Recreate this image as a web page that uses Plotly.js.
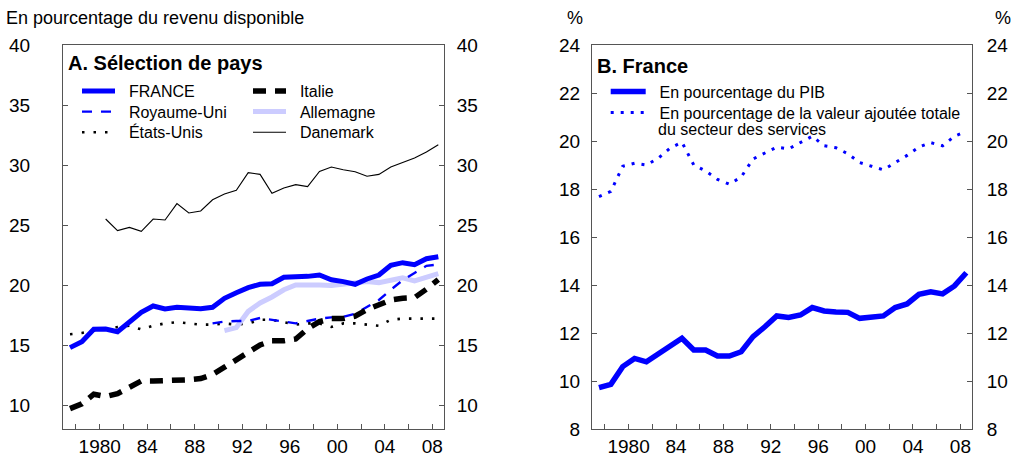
<!DOCTYPE html>
<html>
<head>
<meta charset="utf-8">
<script src="https://cdn.plot.ly/plotly-3.0.1.min.js"></script>
<style>html,body{margin:0;padding:0;background:#fff;}#chart{width:1019px;height:458px;}</style>
</head>
<body>
<div id="chart"></div>
<script>
// ---- Data ----
var years = [1977,1978,1979,1980,1981,1982,1983,1984,1985,1986,1987,1988,1989,1990,1991,1992,1993,1994,1995,1996,1997,1998,1999,2000,2001,2002,2003,2004,2005,2006,2007,2008];
var yearsUK = [1989,1990,1991,1992,1993,1994,1995,1996,1997,1998,1999,2000,2001,2002,2003,2004,2005,2006,2007,2008];
var yearsDE = [1990,1991,1992,1993,1994,1995,1996,1997,1998,1999,2000,2001,2002,2003,2004,2005,2006,2007,2008];
var yearsDK = [1980,1981,1982,1983,1984,1985,1986,1987,1988,1989,1990,1991,1992,1993,1994,1995,1996,1997,1998,1999,2000,2001,2002,2003,2004,2005,2006,2007,2008];

var france = [14.78,15.28,16.31,16.33,16.11,16.86,17.72,18.25,18.0,18.14,18.06,18.03,18.14,18.89,19.36,19.78,20.06,20.11,20.64,20.64,20.72,20.83,20.44,20.28,20.06,20.5,20.83,21.64,21.86,21.69,22.19,22.36];
var italie = [9.7,10.1,10.9,10.7,10.95,11.45,12.0,12.0,12.0,12.1,12.1,12.2,12.55,13.15,13.8,14.45,15.0,15.35,15.35,15.5,16.35,16.95,17.2,17.2,17.4,17.95,18.4,18.75,18.9,18.95,19.65,20.45];
var royaumeUni = [16.8,16.95,17.0,17.0,17.25,17.1,16.9,16.8,17.0,17.2,17.3,17.35,17.6,18.2,18.75,19.6,20.4,21.0,21.6,21.7];
var allemagne = [16.2,16.45,17.8,18.5,19.0,19.6,20.0,20.05,20.0,19.95,20.1,20.25,20.3,20.2,20.45,20.6,20.35,20.7,20.95];
var etatsUnis = [15.9,16.0,16.2,16.3,16.5,16.6,16.3,16.6,16.8,16.9,16.8,16.7,16.7,16.8,16.7,16.8,17.1,17.1,16.9,16.7,16.8,16.8,16.5,16.8,16.8,16.7,16.6,17.1,17.2,17.2,17.2,17.2];
var danemark = [25.5,24.53,24.8,24.47,25.5,25.42,26.78,26.0,26.17,27.1,27.58,27.89,29.36,29.22,27.64,28.08,28.36,28.2,29.47,29.83,29.6,29.44,29.06,29.22,29.83,30.22,30.58,31.08,31.69];

var pctPIB = [9.72,9.86,10.6,10.94,10.8,11.15,11.5,11.78,11.29,11.29,11.04,11.04,11.22,11.85,12.26,12.71,12.65,12.75,13.06,12.92,12.88,12.86,12.61,12.68,12.71,13.06,13.21,13.61,13.72,13.63,13.96,14.51];
var pctServices = [17.68,17.9,18.95,19.07,19.0,19.28,19.7,19.95,19.0,18.75,18.4,18.2,18.5,19.25,19.5,19.74,19.67,19.93,20.2,19.8,19.72,19.47,19.1,18.95,18.8,19.1,19.4,19.75,19.93,19.8,20.2,20.4];

var xTickVals = [1977.5,1979.5,1981.5,1983.5,1985.5,1987.5,1989.5,1991.5,1993.5,1995.5,1997.5,1999.5,2001.5,2003.5,2005.5,2007.5];
var xTickText = ['','1980','','84','','88','','92','','96','','00','','04','','08'];
var yTicksA = [10,15,20,25,30,35,40];
var yTicksB = [8,10,12,14,16,18,20,22,24];

// ---- Styling helpers ----
var FONT = 'Liberation Sans, Arial, sans-serif';
var BLUE = '#0000ff';
var AXC = '#555555';
var NB = '\u00a0\u00a0';

function tr(x, y, name, xa, ya, line, legend) {
  return {x: x, y: y, name: name, type: 'scatter', mode: 'lines', xaxis: xa, yaxis: ya,
          line: line, legend: legend, hoverinfo: 'skip'};
}

var traces = [
  tr(yearsDK, danemark, NB + 'Danemark', 'x', 'y', {color: '#000', width: 1.1}, 'legend6'),
  tr(years, etatsUnis, NB + 'États-Unis', 'x', 'y', {color: '#000', width: 2.6, dash: '2.5px,9px'}, 'legend5'),
  tr(yearsDE, allemagne, NB + 'Allemagne', 'x', 'y', {color: '#ccccff', width: 5}, 'legend4'),
  tr(yearsUK, royaumeUni, NB + 'Royaume-Uni', 'x', 'y', {color: BLUE, width: 2.4, dash: '10px,9px'}, 'legend3'),
  tr(years, italie, NB + 'Italie', 'x', 'y', {color: '#000', width: 5.5, dash: '13px,9px'}, 'legend2'),
  tr(years, france, NB + 'FRANCE', 'x', 'y', {color: BLUE, width: 5}, 'legend'),
  tr(years, pctServices, NB + 'En pourcentage de la valeur ajoutée totale', 'x2', 'y3', {color: BLUE, width: 3, dash: '3px,7px'}, 'legend8'),
  tr(years, pctPIB, NB + 'En pourcentage du PIB', 'x2', 'y3', {color: BLUE, width: 5.5}, 'legend7'),
  // empty traces so the right-hand axes are drawn
  {x: [], y: [], type: 'scatter', mode: 'lines', xaxis: 'x', yaxis: 'y2', showlegend: false, hoverinfo: 'skip'},
  {x: [], y: [], type: 'scatter', mode: 'lines', xaxis: 'x2', yaxis: 'y4', showlegend: false, hoverinfo: 'skip'}
];

function py(px) { return (429 - px) / 384; }
function pxx(px) { return px / 1019; }

function leg(xpx, ypx, iw) {
  return {x: pxx(xpx), y: py(ypx), xanchor: 'left', yanchor: 'middle',
          bgcolor: 'rgba(0,0,0,0)', borderwidth: 0, itemwidth: iw,
          font: {family: FONT, size: 16, color: '#000'}, itemclick: false};
}

function xax(domain, anchor) {
  return {domain: domain, anchor: anchor, range: [1976.41, 2008.48], tickmode: 'array',
          tickvals: xTickVals, ticktext: xTickText, ticks: 'inside', ticklen: 5,
          tickcolor: AXC, showline: true, linecolor: AXC, linewidth: 1, mirror: true,
          showgrid: false, zeroline: false, ticklabelstandoff: 0,
          tickfont: {family: FONT, size: 19, color: '#000'}, fixedrange: true};
}
function yax(range, vals, side, anchor, overlay, standoff) {
  var a = {range: range, tickmode: 'array', tickvals: vals, side: side, anchor: anchor,
           ticks: 'inside', ticklen: 5, tickcolor: AXC, showline: true, linecolor: AXC,
           linewidth: 1, showgrid: false, zeroline: false, ticklabelstandoff: standoff,
           tickfont: {family: FONT, size: 19, color: '#000'}, fixedrange: true};
  if (overlay) a.overlaying = overlay;
  return a;
}

var layout = {
  width: 1019, height: 458,
  margin: {l: 0, r: 0, t: 45, b: 29},
  paper_bgcolor: '#fff', plot_bgcolor: '#fff',
  showlegend: true,
  xaxis: xax([63/1019, 444/1019], 'y'),
  xaxis2: xax([592/1019, 972/1019], 'y3'),
  yaxis: yax([8, 40], yTicksA, 'left', 'x', null, 28),
  yaxis2: yax([8, 40], yTicksA, 'right', 'x', 'y', 8),
  yaxis3: yax([8, 24], yTicksB, 'left', 'x2', null, 7),
  yaxis4: yax([8, 24], yTicksB, 'right', 'x2', 'y3', 10),
  legend: leg(77, 91, 33),
  legend2: leg(248, 91, 33),
  legend3: leg(77, 111.7, 33),
  legend4: leg(248, 111.7, 33),
  legend5: leg(77, 132.3, 33),
  legend6: leg(248, 132.3, 33),
  legend7: leg(605.7, 91.7, 35),
  legend8: leg(605.7, 112.7, 35),
  annotations: [
    {text: 'En pourcentage du revenu disponible', x: pxx(4), y: py(18), xref: 'paper', yref: 'paper',
     xanchor: 'left', yanchor: 'middle', showarrow: false, font: {family: FONT, size: 18, color: '#000'}},
    {text: '%', x: pxx(575), y: py(18), xref: 'paper', yref: 'paper', xanchor: 'center', yanchor: 'middle',
     showarrow: false, font: {family: FONT, size: 18, color: '#000'}},
    {text: '%', x: pxx(1003), y: py(18), xref: 'paper', yref: 'paper', xanchor: 'center', yanchor: 'middle',
     showarrow: false, font: {family: FONT, size: 18, color: '#000'}},
    {text: '<b>A. Sélection de pays</b>', x: pxx(66), y: py(63.3), xref: 'paper', yref: 'paper',
     xanchor: 'left', yanchor: 'middle', showarrow: false, font: {family: FONT, size: 20, color: '#000'}},
    {text: '<b>B. France</b>', x: pxx(594.5), y: py(66), xref: 'paper', yref: 'paper',
     xanchor: 'left', yanchor: 'middle', showarrow: false, font: {family: FONT, size: 20, color: '#000'}},
    {text: 'du secteur des services', x: pxx(656), y: py(129.3), xref: 'paper', yref: 'paper',
     xanchor: 'left', yanchor: 'middle', showarrow: false, font: {family: FONT, size: 16, color: '#000'}}
  ]
};

Plotly.newPlot('chart', traces, layout, {displayModeBar: false, staticPlot: true});
</script>
</body>
</html>
